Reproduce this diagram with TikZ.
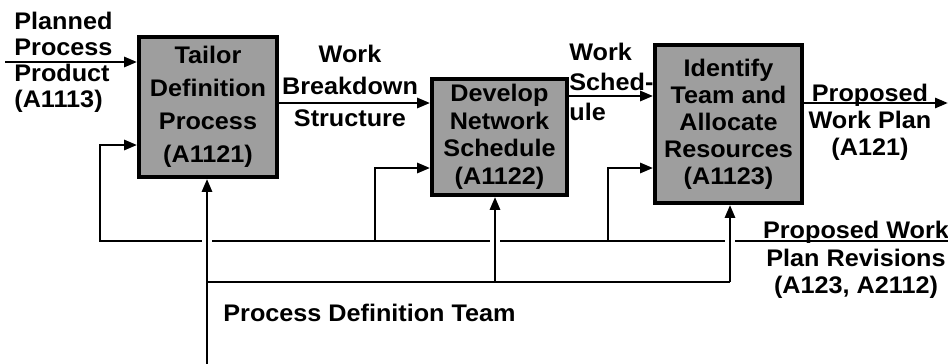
\documentclass[tikz,border=0pt]{standalone}
\usepackage{fontspec}
\setmainfont{Liberation Sans}[FakeStretch=1.05]
\usetikzlibrary{arrows.meta}
\begin{document}
\begin{tikzpicture}[x=1pt,y=-1pt,
  line width=2.8pt,
  arr/.style={-{Triangle[length=13pt,width=10pt]}},
  proc/.style={draw, line width=3.8pt, fill=black!38, inner sep=0pt, align=center},
  lbl/.style={inner sep=0pt},
  gapmark/.style={white, line width=10pt}
]
\useasboundingbox[fill=white] (0,0) rectangle (948,364);

% process boxes
\node[proc, minimum width=138pt, minimum height=140pt,
      font=\bfseries\fontsize{24}{33}\selectfont] (b1) at (208,107)
      {Tailor\\Definition\\Process\\(A1121)};
\node[proc, minimum width=135pt, minimum height=116pt,
      font=\bfseries\fontsize{24}{27.5}\selectfont] (b2) at (499.5,137)
      {Develop\\Network\\Schedule\\(A1122)};
\node[proc, minimum width=147pt, minimum height=158pt,
      font=\bfseries\fontsize{24}{27}\selectfont] (b3) at (728.5,124)
      {Identify\\Team and\\Allocate\\Resources\\(A1123)};

% free ends
\coordinate (inP) at (5,62);
\coordinate (outP) at (948,103);
\coordinate (fbR) at (948,241);
\coordinate (mech) at (207,364);

% labels
\node[lbl, anchor=north west, align=left, font=\bfseries\fontsize{24}{26}\selectfont]
  (lp) at (13,11) {Planned\\Process\\Product\\(A1113)};
\node[lbl, align=center, font=\bfseries\fontsize{24}{32}\selectfont]
  (lwbs) at (350,86) {Work\\Breakdown\\Structure};
\node[lbl, anchor=west, align=left, font=\bfseries\fontsize{24}{30}\selectfont]
  (lws) at (568,82) {Work\\Sched-\\ule};
\node[lbl, align=center, font=\bfseries\fontsize{24}{27}\selectfont]
  (lwp) at (870,122) {Proposed\\Work Plan\\(A121)};
\node[lbl, align=center, font=\bfseries\fontsize{24}{27.5}\selectfont]
  (lrev) at (856,260) {Proposed Work\\Plan Revisions\\(A123, A2112)};
\node[lbl, anchor=west, font=\bfseries\fontsize{24}{26}\selectfont]
  (lteam) at (222,313) {Process Definition Team};

% inputs and outputs
\draw[arr] (inP) -- (inP -| b1.west);
\draw[arr] (b1.east |- 0,103) -- (b2.west |- 0,103);
\draw[arr] (b2.east |- 0,96) -- (b3.west |- 0,96);
\draw[arr] (b3.east |- outP) -- (outP);

% feedback line
\draw[arr] (fbR) -- (100,241) -- (100,145) -- (b1.west |- 0,145);
\draw[arr] (375,241) -- (375,168) -- (b2.west |- 0,168);
\draw[arr] (608,241) -- (608,168) -- (b3.west |- 0,168);

% crossing gaps
\draw[gapmark] (207,235) -- (207,247);
\draw[gapmark] (495,235) -- (495,247);
\draw[gapmark] (730,235) -- (730,247);

% mechanism line
\draw[arr] (mech) -- (b1.south -| mech);
\draw (207,282) -- (730,282);
\draw[arr] (495,282) -- (b2.south -| 495,0);
\draw[arr] (730,282) -- (b3.south -| 730,0);
\end{tikzpicture}
\end{document}
